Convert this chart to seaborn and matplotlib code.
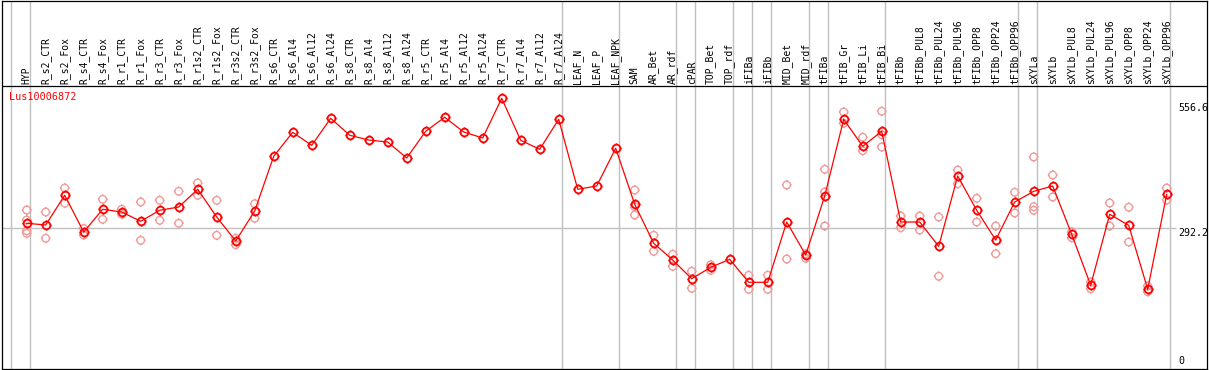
import numpy as np
import pandas as pd
import matplotlib
matplotlib.use("Agg")
import matplotlib.pyplot as plt
from matplotlib.path import Path
from matplotlib.markers import MarkerStyle
import seaborn as sns

# gene shown
gene_id = "Lus10006872"

samples = [
    "HYP", "R_s2_CTR", "R_s2_Fox", "R_s4_CTR", "R_s4_Fox", "R_r1_CTR", "R_r1_Fox",
    "R_r3_CTR", "R_r3_Fox", "R_r1s2_CTR", "R_r1s2_Fox", "R_r3s2_CTR", "R_r3s2_Fox",
    "R_s6_CTR", "R_s6_Al4", "R_s6_Al12", "R_s6_Al24", "R_s8_CTR", "R_s8_Al4",
    "R_s8_Al12", "R_s8_Al24", "R_r5_CTR", "R_r5_Al4", "R_r5_Al12", "R_r5_Al24",
    "R_r7_CTR", "R_r7_Al4", "R_r7_Al12", "R_r7_Al24", "LEAF_N", "LEAF_P", "LEAF_NPK",
    "SAM", "AR_Bet", "AR_rdf", "cPAR", "TOP_Bet", "TOP_rdf", "iFIBa", "iFIBb",
    "MID_Bet", "MID_rdf", "tFIBa", "tFIB_Gr", "tFIB_Li", "tFIB_Bi", "tFIBb",
    "tFIBb_PUL8", "tFIBb_PUL24", "tFIBb_PUL96", "tFIBb_OPP8", "tFIBb_OPP24",
    "tFIBb_OPP96", "sXYLa", "sXYLb", "sXYLb_PUL8", "sXYLb_PUL24", "sXYLb_PUL96",
    "sXYLb_OPP8", "sXYLb_OPP24", "sXYLb_OPP96",
]

mean_expr = [
    302.7, 299.1, 361.9, 284.3, 332.3, 326.6, 306.9, 330.2, 337.1, 374.6, 316.0, 265.2, 328.7,
    444.4, 495.1, 467.6, 524.7, 488.8, 478.8, 474.6, 440.8, 497.3, 526.9, 495.8, 483.1,
    567.0, 478.2, 459.2, 522.6,
    374.6, 381.6, 461.3,
    342.8, 260.4, 225.0, 185.5, 209.6, 226.5, 177.9, 177.9, 305.4, 235.6,
    360.4, 522.6, 465.5, 497.3,
    305.4, 305.4, 254.0, 402.7, 330.2, 267.3, 347.7,
    370.3, 381.6, 279.4, 171.5, 321.7, 298.4, 163.1, 364.0,
]

# replicate values per sample (same order as samples)
replicates = [
    [330.8, 309.6, 287.0, 281.5], [326.6, 270.9], [377.3, 345.0], [291.7, 277.9],
    [353.4, 311.1], [332.3, 321.7], [347.7, 266.7], [351.3, 309.0], [370.3, 302.7],
    [387.9, 361.9], [351.3, 277.3], [270.9, 257.4], [344.1, 313.2],
    [], [], [], [], [], [], [], [], [], [], [], [], [], [], [], [],
    [], [], [],
    [373.1, 337.8, 320.2], [277.3, 243.4], [237.1, 211.7], [201.1, 165.2],
    [215.1, 203.3], [], [192.7, 163.1], [192.7, 163.1], [383.7, 227.2], [238.4, 228.6],
    [416.9, 368.9, 297.0], [538.1, 514.2], [484.6, 456.2], [539.6, 490.1, 464.0],
    [318.1, 293.4], [318.1, 288.5], [316.0, 190.6], [415.4, 386.4], [355.5, 305.4],
    [297.0, 238.4], [368.2, 324.5],
    [442.9, 337.8, 330.2], [404.8, 358.3], [284.9, 272.2], [178.5, 164.3],
    [345.6, 297.0], [336.5, 263.1], [170.1, 158.0], [377.3, 351.9],
]

# sample groups end after these (gray separators)
group_ends = ["HYP", "R_r7_Al24", "LEAF_NPK", "AR_rdf", "cPAR", "TOP_rdf", "iFIBa",
              "iFIBb", "MID_rdf", "tFIBa", "tFIB_Bi", "tFIBb_OPP96", "sXYLa", "sXYLb_OPP96"]

y_ticks = [0, 292.2, 556.6]
y_tick_labels = ["0", "292.2", "556.6"]

# build data frames
pos = np.arange(len(samples))
df_mean = pd.DataFrame({"pos": pos, "expr": mean_expr})
rep_rows = [(i, v) for i, reps in enumerate(replicates) for v in reps]
df_rep = pd.DataFrame(rep_rows, columns=["pos", "expr"])

sns.set_style("white")
plt.rcParams["font.family"] = ["DejaVu Sans Mono"]

W, H = 1209, 370
fig = plt.figure(figsize=(W / 100, H / 100), dpi=100)

# pixel mapping
x0_px, dx_px = 26.7, 19.0
y0_px, dy_px = 366.4, 0.4728
L, R, T, B = 1.5, 1206.5, 0.5, 369.0
ax = fig.add_axes([L / W, 1 - B / H, (R - L) / W, (B - T) / H])
ax.set_xlim((L - x0_px) / dx_px, (R - x0_px) / dx_px)
ax.set_ylim((y0_px - B) / dy_px, (y0_px - T) / dy_px)

def py_to_val(py):
    return (y0_px - py) / dy_px

# marker: circle with small ticks
circle = Path.unit_circle()
ticks = Path([(0, 1), (0, 1.3), (0, -1), (0, -1.3), (1, 0), (1.3, 0), (-1, 0), (-1.3, 0)],
             [Path.MOVETO, Path.LINETO] * 4)
sun = MarkerStyle(Path.make_compound_path(circle, ticks))

# separators
for name in ["__start__"] + group_ends:
    idx = -1 if name == "__start__" else samples.index(name)
    ax.axvline(idx + 0.19, color="#c0c0c0", lw=1.0, zorder=1)
ax.hlines(292.2, ax.get_xlim()[0], (1176 - x0_px) / dx_px, color="#c0c0c0", lw=1.0, zorder=1)
ax.axhline(py_to_val(85.5), color="black", lw=0.9, zorder=1.5)

sns.scatterplot(data=df_rep, x="pos", y="expr", marker=sun, s=50, facecolor="none",
                edgecolor="#f09a9a", linewidth=1.0, ax=ax, zorder=2, legend=False)
sns.lineplot(data=df_mean, x="pos", y="expr", color="red", lw=0.9, marker=sun, ms=7.2,
             mfc="none", mec="red", mew=1.3, ax=ax, zorder=3, legend=False)

# header labels
hdr = ax.get_xaxis_transform()
for i, name in enumerate(samples):
    ax.text(i, (B - 83.5) / (B - T), name, transform=hdr, rotation=90,
            ha="center", va="bottom", fontsize=7, color="black")

fig.text(9.5 / W, 1 - 97 / H, gene_id, color="red", fontsize=7.3, va="center", ha="left")

# right-hand value labels
lab_x = (1178.7 - x0_px) / dx_px
for v, lab in zip(y_ticks, y_tick_labels):
    ax.text(lab_x, v, lab, ha="left", va="bottom" if v == 0 else "top",
            fontsize=7.2, color="black", clip_on=True)

ax.set_xlabel("")
ax.set_ylabel("")
ax.set_xticks([])
ax.set_yticks([])
for sp in ax.spines.values():
    sp.set_visible(True)
    sp.set_color("black")
    sp.set_linewidth(0.9)

fig.savefig("out.png", dpi=100)
